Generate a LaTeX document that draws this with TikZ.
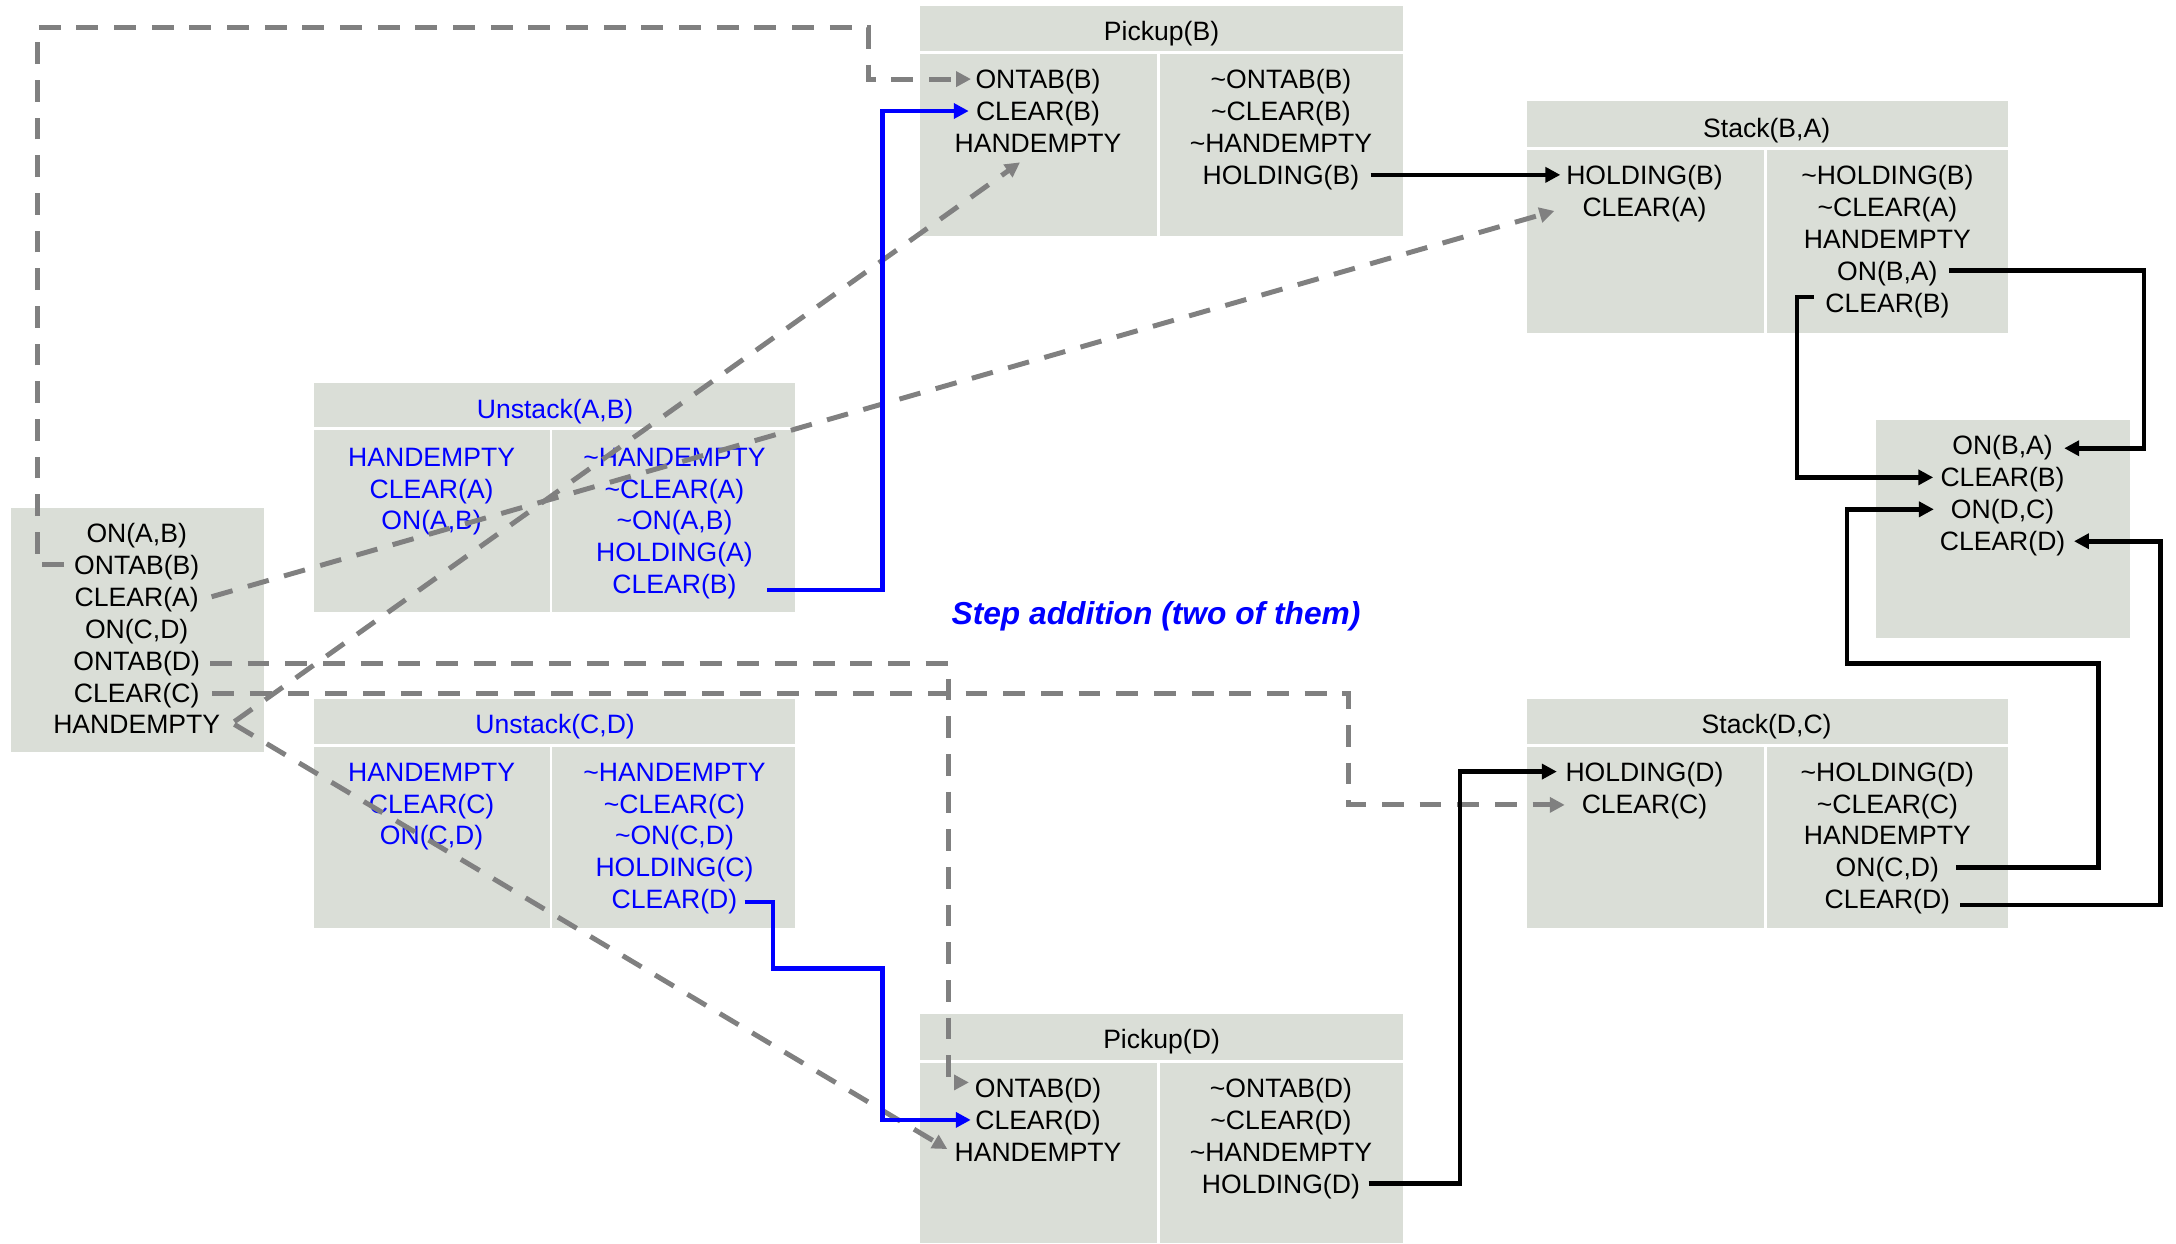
\documentclass[tikz,border=0pt]{standalone}
\usepackage{fontspec}
\setmainfont{Liberation Sans}
\usetikzlibrary{arrows.meta,calc,fit}
\definecolor{boxfill}{RGB}{218,222,215}
\definecolor{linkgray}{RGB}{128,128,128}
\definecolor{stepblue}{RGB}{0,0,255}

\begin{document}
\begin{tikzpicture}[x=0.7pt,y=-0.7pt,
  every node/.style={font=\fontsize{13.4}{16}\selectfont, inner sep=0pt,
                     text height=9.6pt, text depth=0pt},
  cell/.style={fill=boxfill, draw=none, inner sep=0pt},
  ln/.style={},
  act/.style={text=stepblue},
  tip/.style={-{Triangle[length=7.5pt,width=7.5pt]}},
  pre/.style={tip, draw=linkgray, line width=2.5pt, dash pattern=on 11pt off 8pt},
  blk/.style={tip, draw=black, line width=2.3pt},
  blu/.style={tip, draw=stepblue, line width=2.3pt},
  note/.style={font=\fontsize{16}{19}\selectfont\bfseries\itshape, text=stepblue}
]
\useasboundingbox (0,0) rectangle (1568,896);

% ---------- initial state ----------
\node[cell, fit={(8,366)(190,542)}] (init) {};
\node[ln] (i1) at (98.5,384) {ON(A,B)};
\node[ln] (i2) at (98.5,407) {ONTAB(B)};
\node[ln] (i3) at (98.5,430) {CLEAR(A)};
\node[ln] (i4) at (98.5,453) {ON(C,D)};
\node[ln] (i5) at (98.5,476) {ONTAB(D)};
\node[ln] (i6) at (98.5,499) {CLEAR(C)};
\node[ln] (i7) at (98.5,522) {HANDEMPTY};

% ---------- goal state ----------
\node[cell, fit={(1352,303)(1535,460)}] (goal) {};
\node[ln] (g1) at (1443,321) {ON(B,A)};
\node[ln] (g2) at (1443,344) {CLEAR(B)};
\node[ln] (g3) at (1443,367) {ON(D,C)};
\node[ln] (g4) at (1443,390) {CLEAR(D)};

% ---------- Pickup(B) ----------
\node[cell, fit={(663,4)(1011,37)}] (pbh) {};
\node[cell, fit={(663,39)(834,170)}] (pbpre) {};
\node[cell, fit={(836,39)(1011,170)}] (pbeff) {};
\node[ln] (pbt) at (837,22) {Pickup(B)};
\node[ln] (pbl1) at (748,57) {ONTAB(B)};
\node[ln] (pbl2) at (748,80) {CLEAR(B)};
\node[ln] (pbl3) at (748,103) {HANDEMPTY};
\node[ln] (pbr1) at (923,57) {\textasciitilde ONTAB(B)};
\node[ln] (pbr2) at (923,80) {\textasciitilde CLEAR(B)};
\node[ln] (pbr3) at (923,103) {\textasciitilde HANDEMPTY};
\node[ln] (pbr4) at (923,126) {HOLDING(B)};

% ---------- Stack(B,A) ----------
\node[cell, fit={(1100,73)(1447,106)}] (sbh) {};
\node[cell, fit={(1100,108)(1271,240)}] (sbpre) {};
\node[cell, fit={(1273,108)(1447,240)}] (sbeff) {};
\node[ln] (sbt) at (1273,92) {Stack(B,A)};
\node[ln] (sbl1) at (1185,126) {HOLDING(B)};
\node[ln] (sbl2) at (1185,149) {CLEAR(A)};
\node[ln] (sbr1) at (1360,126) {\textasciitilde HOLDING(B)};
\node[ln] (sbr2) at (1360,149) {\textasciitilde CLEAR(A)};
\node[ln] (sbr3) at (1360,172) {HANDEMPTY};
\node[ln] (sbr4) at (1360,195) {ON(B,A)};
\node[ln] (sbr5) at (1360,218) {CLEAR(B)};

% ---------- Stack(D,C) ----------
\node[cell, fit={(1100,504)(1447,536)}] (sdh) {};
\node[cell, fit={(1100,538)(1271,669)}] (sdpre) {};
\node[cell, fit={(1273,538)(1447,669)}] (sdeff) {};
\node[ln] (sdt) at (1273,522) {Stack(D,C)};
\node[ln] (sdl1) at (1185,556) {HOLDING(D)};
\node[ln] (sdl2) at (1185,579) {CLEAR(C)};
\node[ln] (sdr1) at (1360,556) {\textasciitilde HOLDING(D)};
\node[ln] (sdr2) at (1360,579) {\textasciitilde CLEAR(C)};
\node[ln] (sdr3) at (1360,602) {HANDEMPTY};
\node[ln] (sdr4) at (1360,625) {ON(C,D)};
\node[ln] (sdr5) at (1360,648) {CLEAR(D)};

% ---------- Pickup(D) ----------
\node[cell, fit={(663,731)(1011,764)}] (pdh) {};
\node[cell, fit={(663,766)(834,896)}] (pdpre) {};
\node[cell, fit={(836,766)(1011,896)}] (pdeff) {};
\node[ln] (pdt) at (837,749) {Pickup(D)};
\node[ln] (pdl1) at (748,784) {ONTAB(D)};
\node[ln] (pdl2) at (748,807) {CLEAR(D)};
\node[ln] (pdl3) at (748,830) {HANDEMPTY};
\node[ln] (pdr1) at (923,784) {\textasciitilde ONTAB(D)};
\node[ln] (pdr2) at (923,807) {\textasciitilde CLEAR(D)};
\node[ln] (pdr3) at (923,830) {\textasciitilde HANDEMPTY};
\node[ln] (pdr4) at (923,853) {HOLDING(D)};

% ---------- Unstack(A,B) (added step) ----------
\node[cell, fit={(226,276)(573,308)}] (uah) {};
\node[cell, fit={(226,310)(396,441)}] (uapre) {};
\node[cell, fit={(398,310)(573,441)}] (uaeff) {};
\node[ln, act] (uat) at (400,295) {Unstack(A,B)};
\node[ln, act] (ual1) at (311,329) {HANDEMPTY};
\node[ln, act] (ual2) at (311,352) {CLEAR(A)};
\node[ln, act] (ual3) at (311,375) {ON(A,B)};
\node[ln, act] (uar1) at (486,329) {\textasciitilde HANDEMPTY};
\node[ln, act] (uar2) at (486,352) {\textasciitilde CLEAR(A)};
\node[ln, act] (uar3) at (486,375) {\textasciitilde ON(A,B)};
\node[ln, act] (uar4) at (486,398) {HOLDING(A)};
\node[ln, act] (uar5) at (486,421) {CLEAR(B)};

% ---------- Unstack(C,D) (added step) ----------
\node[cell, fit={(226,504)(573,536)}] (uch) {};
\node[cell, fit={(226,538)(396,669)}] (ucpre) {};
\node[cell, fit={(398,538)(573,669)}] (uceff) {};
\node[ln, act] (uct) at (400,522) {Unstack(C,D)};
\node[ln, act] (ucl1) at (311,556) {HANDEMPTY};
\node[ln, act] (ucl2) at (311,579) {CLEAR(C)};
\node[ln, act] (ucl3) at (311,602) {ON(C,D)};
\node[ln, act] (ucr1) at (486,556) {\textasciitilde HANDEMPTY};
\node[ln, act] (ucr2) at (486,579) {\textasciitilde CLEAR(C)};
\node[ln, act] (ucr3) at (486,602) {\textasciitilde ON(C,D)};
\node[ln, act] (ucr4) at (486,625) {HOLDING(C)};
\node[ln, act] (ucr5) at (486,648) {CLEAR(D)};

\node[note] (stepnote) at (833,443) {Step addition (two of them)};

% ---------- causal links from the initial state (dashed) ----------
\draw[pre] ($(i2.west)+(-7,0)$) -| (27,20) -| ($(pbl1.west)+(-77,0)$) -- ($(pbl1.west)+(-3,0)$);
\draw[pre] ($(i3.east)+(9,0)$) -- ($(sbl2.west)+(-20,3)$);
\draw[pre] ($(i7.east)+(10,-2)$) -- ($(pbl3.center)+(-13,14)$);
\draw[pre] ($(i7.east)+(10,0)$) -- ($(pdl3.west)+(-5,-2)$);
\draw[pre] ($(i5.east)+(7,2)$) -| ($(pdl1.west)+(-19,-4)$) -- ($(pdl1.west)+(-4,-4)$);
\draw[pre] ($(i6.east)+(9,1)$) -| ($(972,0 |- sdl2.west)+(0,1)$) -- ($(sdl2.west)+(-12,1)$);

% ---------- links from the added steps ----------
\draw[blu] ($(uar5.east)+(22,4)$) -| (636,0 |- pbl2.west) -- ($(pbl2.west)+(-5,0)$);
\draw[blu] ($(ucr5.east)+(5,2)$) -| (557,698) -| (636,0 |- pdl2.west) -- ($(pdl2.west)+(-3,0)$);

% ---------- remaining links ----------
\draw[blk] ($(pbr4.east)+(8,0)$) -- ($(sbl1.west)+(-4,0)$);
\draw[blk] ($(pdr4.east)+(6,0)$) -| (1052,0 |- sdl1.west) -- ($(sdl1.west)+(-6,0)$);
\draw[blk] ($(sbr4.east)+(8,0)$) -| ($(1545,0 |- g1.east)+(0,2)$) -- ($(g1.east)+(8,2)$);
\draw[blk] ($(sbr5.west)+(-8,-4)$) -| (1295,0 |- g2.west) -- ($(g2.west)+(-5,0)$);
\draw[blk] ($(sdr4.east)+(12,0)$) -| (1512,478) -| (1331,0 |- g3.west) -- ($(g3.west)+(-12,0)$);
\draw[blk] ($(sdr5.east)+(7,4)$) -| (1557,0 |- g4.east) -- ($(g4.east)+(6,0)$);
\end{tikzpicture}
\end{document}
